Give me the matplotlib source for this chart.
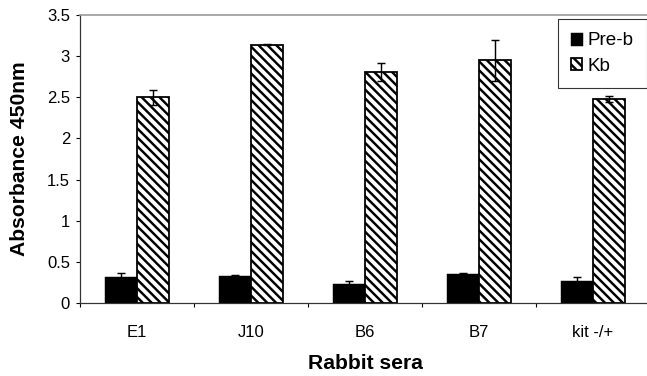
import numpy as np
import matplotlib
matplotlib.use("Agg")
import matplotlib.pyplot as plt

plt.rcParams['font.family'] = ['Liberation Sans', 'DejaVu Sans']
plt.rcParams['hatch.linewidth'] = 2.2

# data
sera = ['E1', 'J10', 'B6', 'B7', 'kit -/+']
preb = [0.31, 0.33, 0.23, 0.35, 0.27]
preb_err = [0.05, 0.01, 0.04, 0.02, 0.05]
kb = [2.50, 3.14, 2.81, 2.95, 2.48]
kb_err = [0.09, 0.01, 0.11, 0.25, 0.04]

DPI = 80
fig = plt.figure(figsize=(647 / DPI, 376 / DPI), dpi=DPI)
ax = fig.add_axes([80 / 647, 73 / 376, 570 / 647, 288 / 376])

x = np.arange(len(sera))
w = 0.28
ekw = dict(ecolor='black', elinewidth=1.3, capsize=4, capthick=1.3)
ax.bar(x - w / 2, preb, w, color='black', edgecolor='black', linewidth=1.3,
       yerr=preb_err, error_kw=ekw, label='Pre-b', zorder=2)
ax.bar(x + w / 2, kb, w, color='white', edgecolor='black', linewidth=1.6,
       hatch='\\\\\\', yerr=kb_err, error_kw=ekw, label='Kb', zorder=2)

ax.set_xlim(-0.5, 4.5)
ax.set_ylim(0, 3.5)
ax.set_yticks(np.arange(0, 3.51, 0.5))
ax.set_yticklabels(['0', '0.5', '1', '1.5', '2', '2.5', '3', '3.5'])
ax.set_xticks(x)
ax.set_xticklabels(sera)
ax.set_xticks(np.arange(-0.5, 4.6, 1), minor=True)
ax.tick_params(axis='x', which='major', length=0, pad=20, labelsize=15)
ax.tick_params(axis='x', which='minor', length=4, direction='out', width=1)
ax.tick_params(axis='y', length=4, direction='out', width=1, pad=5, labelsize=15)

ax.spines['right'].set_visible(False)
ax.spines['top'].set_color('#999999')
ax.spines['top'].set_linewidth(1.5)
for s in ['left', 'bottom']:
    ax.spines[s].set_color('#333333')
    ax.spines[s].set_linewidth(1.1)

ax.set_xlabel('Rabbit sera', fontsize=19, fontweight='bold', labelpad=12)
ax.set_ylabel('Absorbance 450nm', fontsize=19, fontweight='bold', labelpad=16)

leg = ax.legend(loc='upper right', bbox_to_anchor=(1.0, 1 - 19 / 376),
                bbox_transform=fig.transFigure, borderaxespad=0,
                fontsize=17, handlelength=0.6, handleheight=0.6,
                handletextpad=0.3, labelspacing=0.45, fancybox=False,
                frameon=True, edgecolor='black', borderpad=0.7)
leg.get_frame().set_linewidth(1.0)

fig.savefig('out.png', dpi=DPI)
